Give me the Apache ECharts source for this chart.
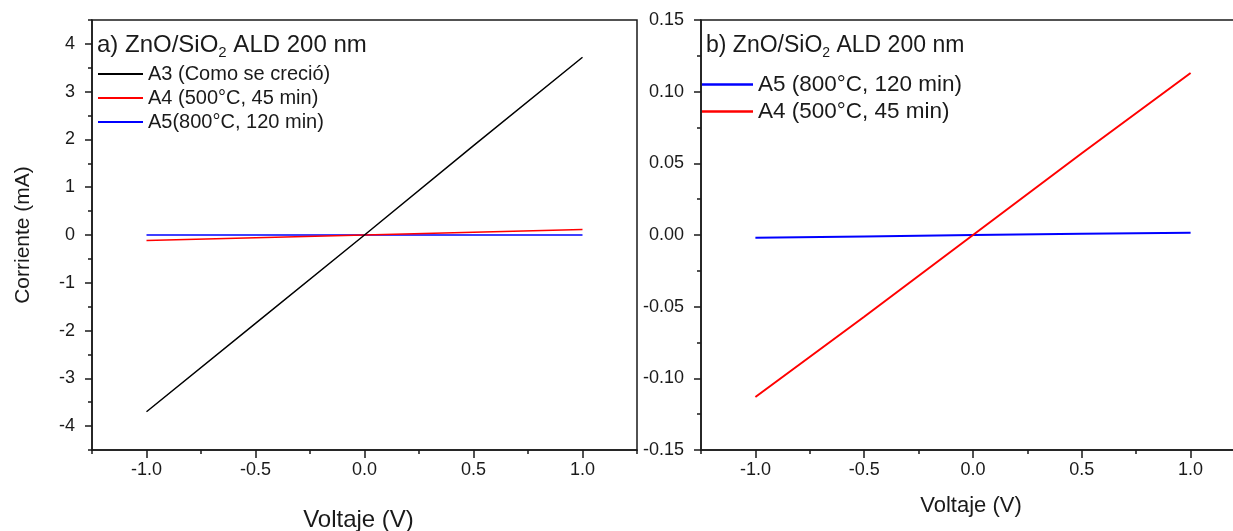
<!DOCTYPE html>
<html>
<head>
<meta charset="utf-8">
<script src="https://cdn.jsdelivr.net/npm/echarts@6/dist/echarts.min.js"></script>
<style>html,body{margin:0;padding:0;background:#fff}#c{width:1233px;height:531px}</style>
</head>
<body>
<div id="c"></div>
<script>
// ---- data ----
var voltage = [-1.0, -0.5, 0.0, 0.5, 1.0];
var a3Left = [-3.70, -1.85, 0.0, 1.87, 3.72];
var a4Left = [-0.113, -0.057, 0.0, 0.057, 0.113];
var a5Left = [-0.0020, -0.0010, 0.0, 0.0008, 0.0015];
var a5Right = [-0.0020, -0.0010, 0.0, 0.0008, 0.0015];
var a4Right = [-0.113, -0.057, 0.0, 0.057, 0.113];

var xMajor = [-1.0, -0.5, 0.0, 0.5, 1.0];
var xMinor = [-1.25, -0.75, -0.25, 0.25, 0.75, 1.25];
var yLeftMajor = [-4, -3, -2, -1, 0, 1, 2, 3, 4];
var yLeftMinor = [-4.5, -3.5, -2.5, -1.5, -0.5, 0.5, 1.5, 2.5, 3.5, 4.5];
var yRightMajor = [-0.15, -0.10, -0.05, 0.00, 0.05, 0.10, 0.15];
var yRightMinor = [-0.125, -0.075, -0.025, 0.025, 0.075, 0.125];

var nameA3 = 'A3 (Como se creció)';
var nameA4 = 'A4 (500°C, 45 min)';
var nameA5L = 'A5(800°C, 120 min)';
var nameA5R = 'A5 (800°C, 120 min)';

function pairs(xs, ys) { return xs.map(function (x, i) { return [x, ys[i]]; }); }

var FONT = '"Liberation Sans", Arial, sans-serif';
var INK = '#1a1a1a';

function majorX(grid, nameGap, nameSize, namePad) {
  return {
    type: 'value', gridIndex: grid, min: -1.25, max: 1.25, position: 'bottom',
    name: 'Voltaje (V)', nameLocation: 'middle', nameGap: nameGap,
    nameTextStyle: { fontFamily: FONT, fontSize: nameSize, color: INK, padding: namePad },
    axisLine: { show: true, onZero: false, lineStyle: { color: INK, width: 1.5 } },
    axisTick: { show: true, inside: false, length: 8, customValues: xMajor, lineStyle: { color: INK, width: 1.5 } },
    axisLabel: { show: true, customValues: xMajor, margin: 11, fontFamily: FONT, fontSize: 18, color: INK,
      formatter: function (v) { return v.toFixed(1); } },
    splitLine: { show: false }
  };
}
function minorX(grid) {
  return {
    type: 'value', gridIndex: grid, min: -1.25, max: 1.25, position: 'bottom', offset: 0,
    axisLine: { show: false, onZero: false },
    axisTick: { show: true, length: 4, customValues: xMinor, lineStyle: { color: INK, width: 1.5 } },
    axisLabel: { show: false }, splitLine: { show: false }
  };
}
function majorY(grid, min, max, ticks, dec, name) {
  return {
    type: 'value', gridIndex: grid, min: min, max: max, position: 'left',
    name: name, nameLocation: 'middle', nameGap: 58,
    nameTextStyle: { fontFamily: FONT, fontSize: 21, color: INK },
    axisLine: { show: true, onZero: false, lineStyle: { color: INK, width: 1.5 } },
    axisTick: { show: true, length: 7, customValues: ticks, lineStyle: { color: INK, width: 1.5 } },
    axisLabel: { show: true, customValues: ticks, margin: 17, fontFamily: FONT, fontSize: 18, color: INK,
      formatter: function (v) { return dec === 0 ? String(Math.round(v)) : v.toFixed(dec); } },
    splitLine: { show: false }
  };
}
function minorY(grid, min, max, ticks) {
  return {
    type: 'value', gridIndex: grid, min: min, max: max, position: 'left', offset: 0,
    axisLine: { show: false, onZero: false },
    axisTick: { show: true, length: 4, customValues: ticks, lineStyle: { color: INK, width: 1.5 } },
    axisLabel: { show: false }, splitLine: { show: false }
  };
}
function line(name, color, width, xi, yi, data) {
  return { type: 'line', name: name, xAxisIndex: xi, yAxisIndex: yi, data: data,
    showSymbol: false, symbol: 'none', lineStyle: { color: color, width: width }, itemStyle: { color: color },
    animation: false, z: 3 };
}

var chart = echarts.init(document.getElementById('c'), null, { renderer: 'canvas' });
chart.setOption({
  animation: false,
  backgroundColor: '#fff',
  grid: [
    { left: 92, top: 20, width: 545, height: 430, show: true, borderColor: INK, borderWidth: 1.5, containLabel: false, outerBoundsMode: 'none' },
    { left: 701, top: 20, width: 544, height: 430, show: true, borderColor: INK, borderWidth: 1.5, containLabel: false, outerBoundsMode: 'none' }
  ],
  title: [
    { left: 92, top: 26, text: '{a|a) ZnO/SiO}{s|2}{a| ALD 200 nm}',
      textStyle: { fontWeight: 'normal', rich: { a: { fontFamily: FONT, fontSize: 24, fontWeight: 'normal', color: INK }, s: { fontFamily: FONT, fontSize: 15, fontWeight: 'normal', color: INK, padding: [14, 0, 0, 0] } } } },
    { left: 701, top: 27, text: '{a|b) ZnO/SiO}{s|2}{a| ALD 200 nm}',
      textStyle: { fontWeight: 'normal', rich: { a: { fontFamily: FONT, fontSize: 23, fontWeight: 'normal', color: INK }, s: { fontFamily: FONT, fontSize: 14, fontWeight: 'normal', color: INK, padding: [14, 0, 0, 0] } } } }
  ],
  legend: [
    { left: 93, top: 57, orient: 'vertical', itemGap: 0, itemWidth: 45, itemHeight: 2, icon: 'rect',
      data: [nameA3, nameA4, nameA5L], selectedMode: false,
      textStyle: { fontFamily: FONT, fontSize: 20, color: INK, lineHeight: 24 } },
    { left: 697, top: 66, orient: 'vertical', itemGap: 0, itemWidth: 51, itemHeight: 2.5, icon: 'rect',
      data: [nameA5R, nameA4], selectedMode: false,
      textStyle: { fontFamily: FONT, fontSize: 22.5, color: INK, lineHeight: 27 } }
  ],
  xAxis: [majorX(0, 58, 24, [0, 12, 0, 0]), minorX(0), majorX(1, 45, 22, [0, 4, 0, 0]), minorX(1)],
  yAxis: [
    majorY(0, -4.5, 4.5, yLeftMajor, 0, 'Corriente (mA)'), minorY(0, -4.5, 4.5, yLeftMinor),
    majorY(1, -0.15, 0.15, yRightMajor, 2, ''), minorY(1, -0.15, 0.15, yRightMinor)
  ],
  series: [
    line(nameA5L, '#0000ff', 1.5, 0, 0, pairs(voltage, a5Left)),
    line(nameA4, '#ff0000', 1.5, 0, 0, pairs(voltage, a4Left)),
    line(nameA3, '#000000', 1.5, 0, 0, pairs(voltage, a3Left)),
    line(nameA5R, '#0000ff', 2, 2, 2, pairs(voltage, a5Right)),
    line(nameA4, '#ff0000', 2, 2, 2, pairs(voltage, a4Right))
  ]
});
</script>
</body>
</html>
